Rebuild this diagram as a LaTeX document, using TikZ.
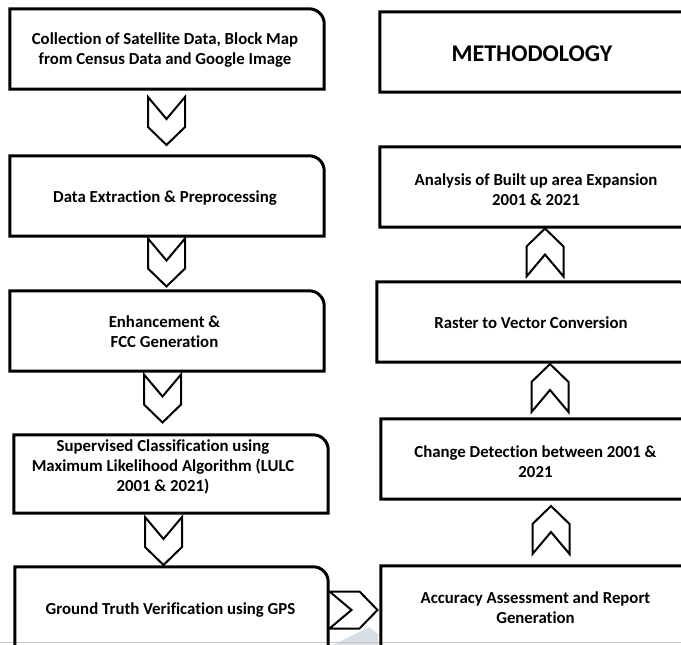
\documentclass[tikz,border=0pt]{standalone}
\usepackage{fontspec}
\setmainfont[Ligatures={NoCommon}]{Carlito}
\usetikzlibrary{calc}
\begin{document}
\begin{tikzpicture}[x=1pt,y=-1pt,
  boxnode/.style={inner sep=0pt, draw=none},
  txt/.style={inner sep=0pt, align=center, font=\bfseries\fontsize{16.8}{20}\selectfont},
  bigtxt/.style={inner sep=0pt, align=center, font=\bfseries\fontsize{24}{28}\selectfont},
  boxline/.style={line width=3pt, line join=miter},
  chevline/.style={line width=2pt, line join=miter},
  chev/.pic={\draw[chevline] (-18.5,-24) -- (0,-2) -- (18.5,-24) -- (18.5,6) -- (0,24) -- (-18.5,6) -- cycle;}
]
\clip (0,0) rectangle (681,645);
\fill[white] (0,0) rectangle (681,645);
% faint watermark
\fill[fill={rgb,255:red,214;green,222;blue,228}] (333,645) -- (369,627) -- (378,634) -- (378,645) -- cycle;
\draw[gray!45, line width=0.8pt] (0,642) -- (681,642);

\newcommand\mkbox[5]{\node[boxnode, minimum width={#4-#2}, minimum height={#5-#3}] (#1) at ({(#2+#4)/2},{(#3+#5)/2}) {};}
% left column
\mkbox{L1}{10}{9}{324}{89}
\mkbox{L2}{10}{156}{324}{236}
\mkbox{L3}{10}{291}{324}{371}
\mkbox{L4}{14}{435}{328}{513}
\mkbox{L5}{15}{567}{328}{700}
% right column
\mkbox{R0}{380}{12}{700}{92}
\mkbox{R1}{380}{147}{700}{227}
\mkbox{R2}{377}{282}{693}{362}
\mkbox{R3}{381}{419}{700}{499}
\mkbox{R4}{381}{566}{700}{700}

\foreach \n in {L1,L2,L3,L4,L5,R0,R1,R2,R3,R4}{
  \draw[boxline] (\n.south west) -- (\n.north west) -- ([xshift=-15pt]\n.north east)
    arc[start angle=90, end angle=0, radius=15pt] -- (\n.south east) -- cycle;
}

% texts
\node[txt] (t1) at (165,50) {Collection of Satellite Data, Block Map\\from Census Data and Google Image};
\node[txt] (t2) at (165,198) {Data Extraction \& Preprocessing};
\node[txt] (t3) at (164.5,332) {Enhancement \&\\FCC Generation};
\node[txt] (t4) at (163,467) {Supervised Classification using\\Maximum Likelihood Algorithm (LULC\\2001 \& 2021)};
\node[txt] (t5) at (170.5,610) {Ground Truth Verification using GPS};
\node[bigtxt] (t6) at (532,54) {METHODOLOGY};
\node[txt] (t7) at (536,190) {Analysis of Built up area Expansion\\2001 \& 2021};
\node[txt] (t8) at (531,323) {Raster to Vector Conversion};
\node[txt] (t9) at (535.5,462) {Change Detection between 2001 \&\\2021};
\node[txt] (t10) at (535.5,608) {Accuracy Assessment and Report\\Generation};

% chevron connectors
\pic at ($(L1.south)!0.5!(L2.north)+(-0.5,-1.5)$) {chev};
\pic at ($(L2.south)!0.5!(L3.north)+(-0.5,-1)$) {chev};
\pic at ($(L3.south)!0.5!(L4.north)+(-6.5,-4.5)$) {chev};
\pic at ($(L4.south)!0.5!(L5.north)+(-7.75,1)$) {chev};
\pic[rotate=90] at ($(L5.east)!0.5!(R4.west)+(-1,-23.25)$) {chev};
\pic[rotate=180] at ($(R4.north)!0.5!(R3.south)+(10.5,-2.5)$) {chev};
\pic[rotate=180] at ($(R3.north)!0.5!(R2.south)+(12.25,-2.5)$) {chev};
\pic[rotate=180] at ($(R2.north)!0.5!(R1.south)+(7.5,-2)$) {chev};
\end{tikzpicture}
\end{document}
